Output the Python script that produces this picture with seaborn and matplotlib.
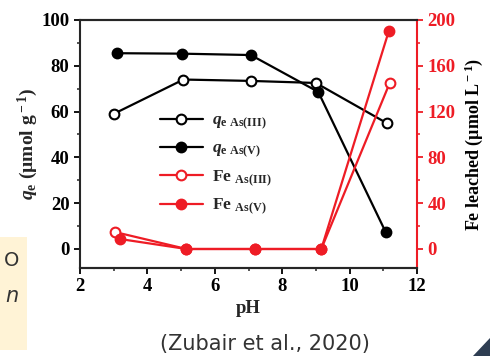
import matplotlib
matplotlib.use("Agg")
import matplotlib.pyplot as plt
import seaborn as sns
import pandas as pd
from matplotlib.patches import Rectangle, Polygon
from matplotlib.ticker import MultipleLocator

# ---- data ----
ph_q3 = [3.0, 5.07, 7.07, 9.0, 11.1]
qe_as3 = [59, 74, 73.4, 72.5, 55]
ph_q5 = [3.1, 5.02, 7.07, 9.07, 11.07]
qe_as5 = [85.5, 85.3, 84.7, 68.6, 7.4]
ph_fe3 = [3.04, 5.16, 7.2, 9.16, 11.19]
fe_as3 = [14.8, 0, 0, 0, 145]
ph_fe5 = [3.19, 5.16, 7.2, 9.16, 11.16]
fe_as5 = [8.7, 0, 0, 0, 190]

lab_q3 = r"$q_{\rm e\ As(III)}$"
lab_q5 = r"$q_{\rm e\ As(V)}$"
lab_f3 = r"Fe $_{\rm As(III)}$"
lab_f5 = r"Fe $_{\rm As(V)}$"

sns.set_style("ticks")
plt.rcParams["font.family"] = ["Liberation Serif", "DejaVu Serif"]
plt.rcParams["font.weight"] = "bold"
plt.rcParams["mathtext.fontset"] = "custom"
plt.rcParams["mathtext.rm"] = "Liberation Serif:bold"
plt.rcParams["mathtext.bf"] = "Liberation Serif:bold"
plt.rcParams["mathtext.it"] = "Liberation Serif:bold:italic"

fig = plt.figure(figsize=(4.9, 3.56), dpi=100)
ax = fig.add_axes([80/490, 1-268/356, 337/490, 248/356])
ax2 = ax.twinx()

RED = "#ee1c25"
lw = 1.6
ms = 7

sns.lineplot(x=ph_q3, y=qe_as3, ax=ax, color="black", lw=lw, marker="o", ms=ms,
             markerfacecolor="white", markeredgecolor="black", mew=1.5, label=lab_q3, legend=False)
sns.lineplot(x=ph_q5, y=qe_as5, ax=ax, color="black", lw=lw, marker="o", ms=ms,
             markerfacecolor="black", markeredgecolor="black", mew=1.5, label=lab_q5, legend=False)
sns.lineplot(x=ph_fe3, y=fe_as3, ax=ax2, color=RED, lw=lw, marker="o", ms=ms,
             markerfacecolor="white", markeredgecolor=RED, mew=1.5, label=lab_f3, legend=False)
sns.lineplot(x=ph_fe5, y=fe_as5, ax=ax2, color=RED, lw=lw, marker="o", ms=ms,
             markerfacecolor=RED, markeredgecolor=RED, mew=1.5, label=lab_f5, legend=False)

ax.set_xlim(2, 12)
ax.set_ylim(-8.3, 100)
ax2.set_ylim(-16.6, 200)
ax.set_xticks([2, 4, 6, 8, 10, 12])
ax.xaxis.set_minor_locator(MultipleLocator(1))
ax.set_yticks([0, 20, 40, 60, 80, 100])
ax.yaxis.set_minor_locator(MultipleLocator(10))
ax2.set_yticks([0, 40, 80, 120, 160, 200])
ax2.yaxis.set_minor_locator(MultipleLocator(20))

for a in (ax, ax2):
    for s in a.spines.values():
        s.set_linewidth(1.5)
        s.set_visible(True)
ax2.spines["right"].set_color(RED)
ax2.spines["left"].set_visible(False)
ax.spines["right"].set_visible(False)

ax.tick_params(axis="both", which="major", direction="out", length=4, width=1.3,
               labelsize=13.5, colors="black")
ax.tick_params(axis="both", which="minor", direction="out", length=2.5, width=1.1)
ax2.tick_params(axis="y", which="major", direction="out", length=4, width=1.3,
                labelsize=13.5, colors=RED)
ax2.tick_params(axis="y", which="minor", direction="out", length=2.5, width=1.1, colors=RED)
for t in ax.get_xticklabels() + ax.get_yticklabels() + ax2.get_yticklabels():
    t.set_fontweight("bold")

ax.set_xlabel("pH", fontsize=13.5, fontweight="bold", labelpad=3)
ax.set_ylabel(r"$q_{\rm e}$ (µmol g$^{\rm -1}$)", fontsize=14, fontweight="bold", labelpad=1)
ax2.set_ylabel(r"Fe leached (µmol L$^{\rm -1}$)", fontsize=13, fontweight="bold",
               color="black", labelpad=5)

h1, l1 = ax.get_legend_handles_labels()
h2, l2 = ax2.get_legend_handles_labels()
leg = ax.legend(h1 + h2, l1 + l2, loc="upper left", bbox_to_anchor=(0.2, 0.675),
                frameon=False, fontsize=12.5, handlelength=2.5, labelspacing=0.5,
                handletextpad=0.5, borderpad=0.2)

# slide decorations
fig.patches.append(Rectangle((0, 1-350/356), 27/490, 113/356, transform=fig.transFigure,
                             facecolor="#fff3d6", edgecolor="none", zorder=0))
fig.text(4/490, 1-261/356, "O", fontsize=14, family="DejaVu Sans", color="#333333",
         ha="left", va="center", fontweight="normal")
fig.text(5/490, 1-296/356, "n", fontsize=15, family="DejaVu Sans", color="#333333",
         ha="left", va="center", fontweight="normal", style="italic")
fig.text(265/490, 1-344/356, "(Zubair et al., 2020)", fontsize=15, family="DejaVu Sans",
         color="#333333", ha="center", va="center", fontweight="normal")
fig.patches.append(Polygon([(473/490, 0), (1, 0), (1, 18/356)], closed=True,
                           transform=fig.transFigure, facecolor="#2e3d52", edgecolor="none"))

fig.savefig("out.png", dpi=100)
